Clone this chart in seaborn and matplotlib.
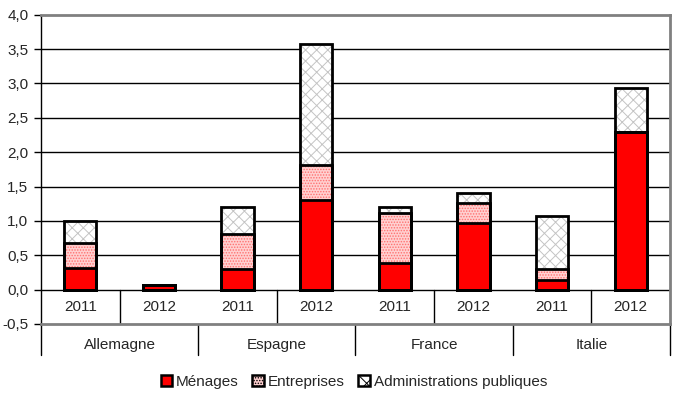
import numpy as np
import pandas as pd
import matplotlib
matplotlib.use('Agg')
import matplotlib.pyplot as plt
import matplotlib.transforms as mtransforms
from matplotlib.patches import Patch
import seaborn as sns

# Data
countries = ['Allemagne', 'Espagne', 'France', 'Italie']
years = ['2011', '2012']
menages = [0.32, 0.06, 0.30, 1.30, 0.39, 0.97, 0.14, 2.29]
entreprises = [0.36, 0.00, 0.51, 0.51, 0.73, 0.29, 0.16, 0.00]
administrations = [0.32, 0.00, 0.39, 1.77, 0.08, 0.15, 0.77, 0.65]
yticks = [-0.5, 0.0, 0.5, 1.0, 1.5, 2.0, 2.5, 3.0, 3.5, 4.0]

df = pd.DataFrame({
    'pays': np.repeat(countries, len(years)),
    'annee': years * len(countries),
    'menages': menages,
    'entreprises': entreprises,
    'administrations': administrations,
})
df['cat'] = df['pays'] + ' ' + df['annee']
# cumulative heights for the stacked look
df['h1'] = df['menages']
df['h2'] = df['h1'] + df['entreprises']
df['h3'] = df['h2'] + df['administrations']

sns.set_style('white')
plt.rcParams['font.family'] = ['Liberation Sans', 'DejaVu Sans']
plt.rcParams['hatch.linewidth'] = 0.7

fig = plt.figure(figsize=(6.91, 3.97), dpi=100)
ax = fig.add_axes([0.0593, 0.184, 0.9103, 0.779])

bw = 0.41
fs = 11
order = list(df['cat'])
sns.barplot(data=df, x='cat', y='h3', order=order, color='white', hatch='xxx',
            edgecolor='#c4c4c4', linewidth=0, width=bw, errorbar=None,
            saturation=1, ax=ax)
sns.barplot(data=df, x='cat', y='h2', order=order, color='#ffd0d0', hatch='......',
            edgecolor='#ff7070', linewidth=0, width=bw, errorbar=None,
            saturation=1, ax=ax)
sns.barplot(data=df, x='cat', y='h1', order=order, color='#ff0000',
            linewidth=0, width=bw, errorbar=None, saturation=1, ax=ax)
for col in ['h3', 'h2', 'h1']:
    sns.barplot(data=df, x='cat', y=col, order=order, color='black', fill=False,
                linewidth=2, width=bw, errorbar=None, saturation=1, ax=ax)

ax.set_xlim(-0.5, len(order) - 0.5)
ax.set_ylim(-0.5, 4.0)
ax.set_yticks(yticks)
ax.set_yticklabels([f'{v:.1f}'.replace('.', ',') for v in yticks], fontsize=fs)
ax.set_xticks([])
ax.set_xlabel('')
ax.set_ylabel('')
ax.tick_params(axis='y', length=5, width=1, color='black', pad=4, left=True)

for v in yticks[1:-1]:
    ax.axhline(v, color='black', lw=1, zorder=0.5)

for side in ['top', 'right', 'bottom']:
    ax.spines[side].set_color('#808080')
    ax.spines[side].set_linewidth(2)
ax.spines['left'].set_color('black')
ax.spines['left'].set_linewidth(1)

# category axis: years inside the plot, countries below
trans = mtransforms.blended_transform_factory(ax.transData, ax.transAxes)
for i, yr in enumerate(df['annee']):
    ax.text(i, -0.25, yr, ha='center', va='center', fontsize=fs)
for k in range(len(countries)):
    ax.plot([2 * k + 0.5] * 2, [0, -0.5], color='black', lw=1, clip_on=False)
    ax.text(2 * k + 0.5, -0.068, countries[k], transform=trans,
            ha='center', va='center', fontsize=fs)
for k in range(len(countries) + 1):
    ax.plot([2 * k - 0.5] * 2, [0.0, -0.10], color='black', lw=1,
            transform=trans, clip_on=False)

handles = [
    Patch(facecolor='#ff0000', edgecolor='black', linewidth=1.8),
    Patch(facecolor='#ffd0d0', edgecolor='black', hatch='......', linewidth=1.8),
    Patch(facecolor='white', edgecolor='black', hatch='xx', linewidth=1.8),
]
fig.legend(handles, ['Ménages', 'Entreprises', 'Administrations publiques'],
           loc='center', bbox_to_anchor=(0.512, 0.038), ncol=3, frameon=False,
           fontsize=fs, handlelength=0.75, handleheight=0.75,
           handletextpad=0.25, columnspacing=0.9)

fig.savefig('out.png', dpi=100)
